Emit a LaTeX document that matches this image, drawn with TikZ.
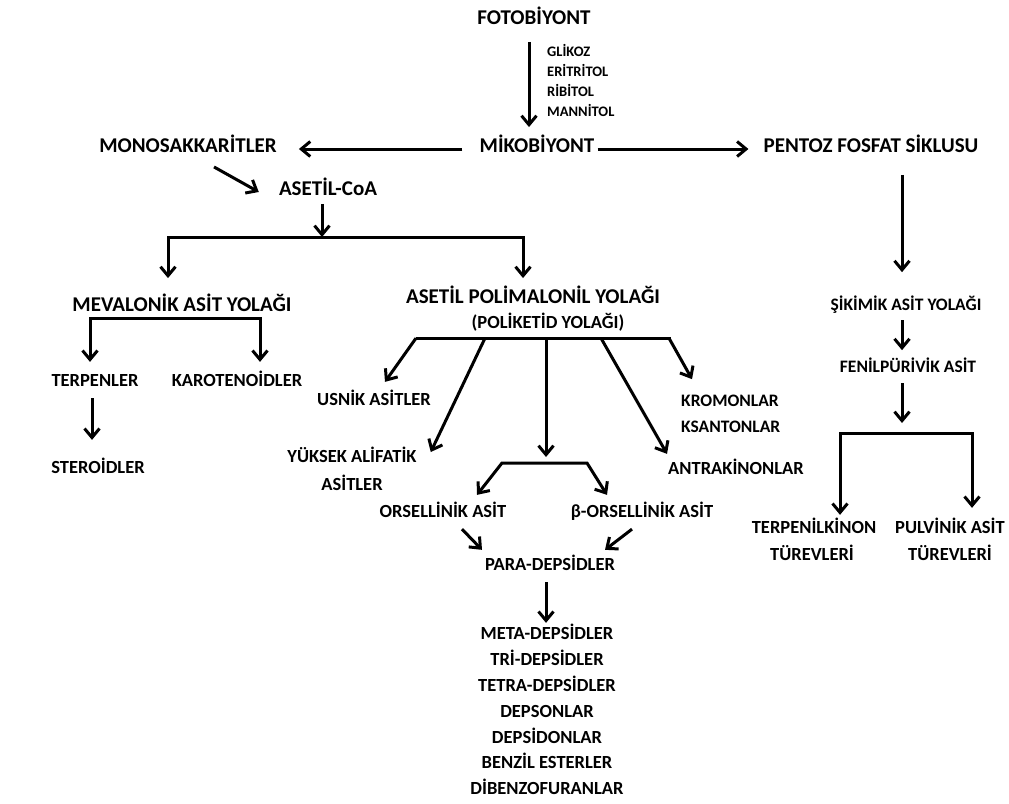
\documentclass[tikz,border=0pt]{standalone}
\usepackage{fontspec}
\setmainfont{Carlito}
\usetikzlibrary{arrows.meta}
\tikzset{
  lab/.style={inner sep=0pt, font=\bfseries\fontsize{21}{25}\selectfont, text height=13.5pt, text depth=0pt},
  sub/.style={inner sep=0pt, font=\bfseries\fontsize{18.5}{22}\selectfont, text height=11.9pt, text depth=0pt},
  rsub/.style={inner sep=0pt, font=\bfseries\fontsize{17.5}{21}\selectfont, text height=11.3pt, text depth=0pt},
  sml/.style={inner sep=0pt, font=\bfseries\fontsize{14.5}{17}\selectfont, text height=9.3pt, text depth=0pt},
  ln/.style={line width=3pt},
  arr/.style={ln, -{Straight Barb[length=9pt,width=15pt]}},
  arrs/.style={ln, {Straight Barb[length=9pt,width=15pt]}-{Straight Barb[length=9pt,width=15pt]}}
}
\begin{document}
\begin{tikzpicture}[x=1pt,y=-1pt]
\useasboundingbox[fill=white] (0,0) rectangle (1009,803);
\node[lab] (foto) at (534,18) {FOTOB\.IYONT};
\foreach \s [count=\i] in {GL\.IKOZ,ER\.ITR\.ITOL,R\.IB\.ITOL,MANN\.ITOL}
  \node[sml, anchor=west] (g\i) at (547,32+20*\i) {\s};
\node[lab] (miko) at (537,146) {M\.IKOB\.IYONT};
\node[lab] (mono) at (188,146) {MONOSAKKAR\.ITLER};
\node[lab] (pent) at (871,146) {PENTOZ FOSFAT S\.IKLUSU};
\node[lab] (aset) at (328,189) {ASET\.IL-CoA};
\node[lab] (meva) at (182,305) {MEVALON\.IK AS\.IT YOLA\u{G}I};
\node[lab] (apy) at (533,297) {ASET\.IL POL\.IMALON\.IL YOLA\u{G}I};
\node[sub] (pky) at (548,323) {(POL\.IKET\.ID YOLA\u{G}I)};
\node[sub] (terp) at (95,381) {TERPENLER};
\node[sub] (karo) at (237,381) {KAROTENO\.IDLER};
\node[sub] (ster) at (98,468) {STERO\.IDLER};
\node[sub] (usn) at (374,400) {USN\.IK AS\.ITLER};
\node[sub] (yuk1) at (352,457) {Y\"UKSEK AL\.IFAT\.IK};
\node[sub] (yuk2) at (352,485) {AS\.ITLER};
\node[rsub, anchor=west] (kro) at (681,401) {KROMONLAR};
\node[rsub, anchor=west] (ksa) at (681,427) {KSANTONLAR};
\node[sub] (ant) at (736,469) {ANTRAK\.INONLAR};
\node[sub] (ors) at (443,512) {ORSELL\.IN\.IK AS\.IT};
\node[sub] (bor) at (642,512) {β-ORSELL\.IN\.IK AS\.IT};
\node[sub] (para) at (550,565) {PARA-DEPS\.IDLER};
\foreach \s [count=\i] in {META-DEPS\.IDLER,TR\.I-DEPS\.IDLER,TETRA-DEPS\.IDLER,DEPSONLAR,DEPS\.IDONLAR,BENZ\.IL ESTERLER,D\.IBENZOFURANLAR}
  \node[sub] (l\i) at (547,608.2+25.8*\i) {\s};
\node[rsub] (siki) at (906,305) {\c{S}\.IK\.IM\.IK AS\.IT YOLA\u{G}I};
\node[rsub] (feni) at (908,367) {FEN\.ILP\"UR\.IV\.IK AS\.IT};
\node[sub] (terpk) at (814,528) {TERPEN\.ILK\.INON};
\node[sub] (terpk2) at (812,555) {T\"UREVLER\.I};
\node[sub] (pulv) at (950,528) {PULV\.IN\.IK AS\.IT};
\node[sub] (pulv2) at (950,555) {T\"UREVLER\.I};
\coordinate (j1) at (322,237);
\coordinate (j3) at ([yshift=-9pt]pky.south);
\coordinate (j4) at (546,463);
\coordinate (j5) at (902,433);
\draw[arr] ([xshift=-5pt,yshift=-17pt]foto.south) -- ([xshift=-8pt,yshift=12pt]miko.north);
\draw[arr, shorten <=17pt, shorten >=22pt] ([yshift=-3pt]miko.west) -- ([yshift=-3pt]mono.east);
\draw[arr, shorten <=3pt, shorten >=15pt] ([yshift=-3pt]miko.east) -- ([yshift=-3pt]pent.west);
\draw[arr] ([xshift=26pt,yshift=-14pt]mono.south) -- ([xshift=-20pt,yshift=-3pt]aset.west);
\draw[arr] ([xshift=-6pt,yshift=-8pt]aset.south) -- (j1);
\draw[arrs] ([xshift=-14pt,yshift=20pt]meva.north) |- (j1) -| ([xshift=-10pt,yshift=12pt]apy.north);
\draw[arrs] ([xshift=-5pt,yshift=13pt]terp.north) |- ([yshift=-7pt]meva.south) -| ([xshift=23pt,yshift=13pt]karo.north);
\draw[arr] ([xshift=-3pt,yshift=-11pt]terp.south) -- ([xshift=-6pt,yshift=22pt]ster.north);
\draw[ln] ([xshift=-132pt]j3) -- ([xshift=123pt]j3);
\draw[arr] ([xshift=-132pt]j3) -- ([xshift=11pt,yshift=12pt]usn.north);
\draw[arr] ([xshift=-63pt]j3) -- ([xshift=14pt,yshift=5pt]yuk1.east);
\draw[arr] ([xshift=-2pt]j3) -- ([yshift=6pt]j4);
\draw[arr] ([xshift=53pt]j3) -- ([xshift=-1pt,yshift=9pt]ant.north west);
\draw[arr] ([xshift=121pt]j3) -- ([xshift=11pt,yshift=16pt]kro.north west);
\draw[arrs] ([xshift=34pt,yshift=11pt]ors.north) -- ([xshift=-44pt]j4) -- ([xshift=41pt]j4) -- ([xshift=-35pt,yshift=11pt]bor.north);
\draw[arr] ([xshift=19pt,yshift=-11pt]ors.south) -- ([xshift=-68pt,yshift=9pt]para.north);
\draw[arr] ([xshift=-10pt,yshift=-11pt]bor.south) -- ([xshift=55pt,yshift=9pt]para.north);
\draw[arr] ([xshift=-4pt,yshift=-11pt]para.south) -- ([xshift=-1pt,yshift=5pt]l1.north);
\draw[arr] ([xshift=31pt,yshift=-22pt]pent.south) -- ([xshift=-4pt,yshift=27pt]siki.north);
\draw[arr] ([xshift=-4pt,yshift=-9.5pt]siki.south) -- ([xshift=-6pt,yshift=11pt]feni.north);
\draw[arr] ([xshift=-6pt,yshift=-10.5pt]feni.south) -- ([yshift=10pt]j5);
\draw[arrs] ([xshift=26pt,yshift=7pt]terpk.north) |- (j5) -| ([xshift=22pt,yshift=14pt]pulv.north);
\end{tikzpicture}
\end{document}
